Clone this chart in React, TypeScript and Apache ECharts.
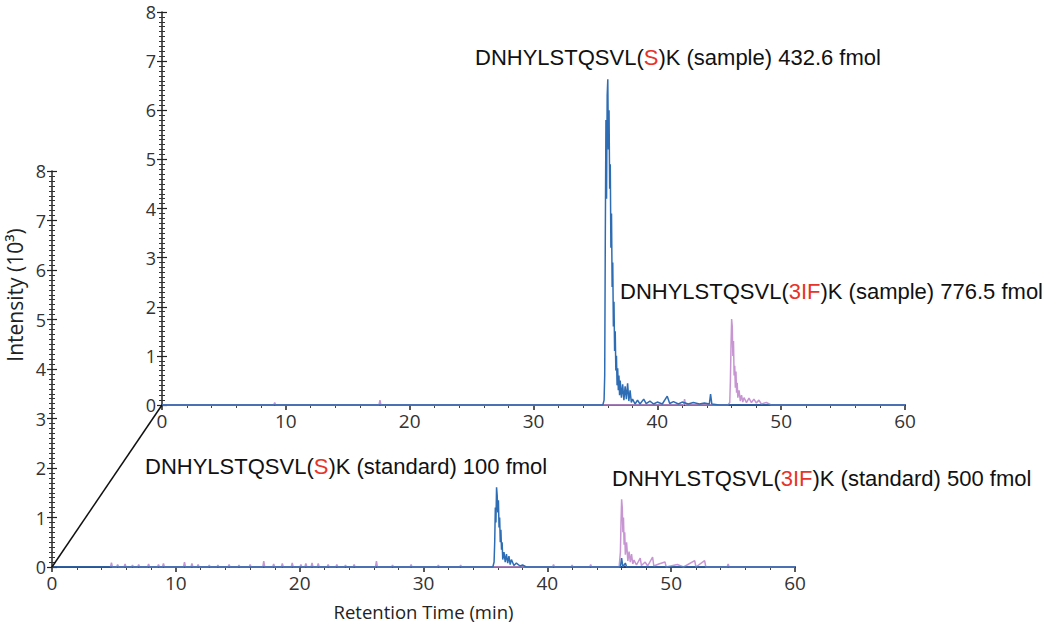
import React, { useEffect, useRef } from "react";
import * as echarts from "echarts";

// ---- data (retention time in min, intensity in 10^3) ----
const xTicks = [0, 10, 20, 30, 40, 50, 60];
const yTicks = [0, 1, 2, 3, 4, 5, 6, 7, 8];

const sampleS: [number, number][] = [
  [0, 0], [35.6, 0], [35.7, 0.1], [35.75, 0.6], [35.8, 3.5], [35.85, 5.8], [35.9, 4.2], [35.95, 6.3],
  [36.0, 6.63], [36.05, 5.2], [36.1, 6.0], [36.15, 4.4], [36.2, 4.9], [36.25, 3.2], [36.3, 3.9],
  [36.35, 2.4], [36.4, 2.9], [36.45, 1.6], [36.5, 2.1], [36.55, 1.1], [36.6, 1.5], [36.65, 0.7],
  [36.7, 1.0], [36.75, 0.4], [36.8, 0.75], [36.85, 0.3], [36.9, 0.6], [36.95, 0.2], [37.0, 0.5],
  [37.1, 0.15], [37.2, 0.42], [37.3, 0.1], [37.4, 0.38], [37.5, 0.12], [37.6, 0.44], [37.7, 0.08],
  [37.8, 0.3], [37.9, 0.05], [38.0, 0.12], [38.2, 0.02], [38.4, 0.1], [38.6, 0.02], [38.9, 0.12],
  [39.1, 0.03], [39.4, 0.08], [39.7, 0.02], [40.0, 0.06], [40.4, 0.02], [40.8, 0.18], [41.0, 0.03],
  [41.3, 0.07], [41.7, 0.02], [42.0, 0.06], [42.5, 0.02], [42.9, 0.05], [43.4, 0.02], [43.8, 0.04],
  [44.2, 0.02], [44.3, 0.22], [44.4, 0.02], [45, 0], [60, 0],
];

const sample3IF: [number, number][] = [
  [0, 0], [45.7, 0], [45.85, 0.05], [45.9, 0.5], [45.95, 1.2], [46.0, 1.75], [46.05, 1.6], [46.1, 1.0],
  [46.15, 1.3], [46.2, 0.6], [46.25, 0.8], [46.3, 0.35], [46.35, 0.68], [46.4, 0.25], [46.45, 0.45],
  [46.5, 0.15], [46.6, 0.3], [46.7, 0.08], [46.8, 0.2], [46.9, 0.06], [47.0, 0.15], [47.2, 0.05],
  [47.4, 0.14], [47.6, 0.05], [47.8, 0.12], [48.0, 0.04], [48.2, 0.1], [48.4, 0.02], [48.8, 0.05],
  [49.2, 0], [60, 0],
];

const sampleNoiseT = [9.1, 17.6, 42.2];
const sampleNoiseH = [0.05, 0.1, 0.12];

const standardS: [number, number][] = [
  [0, 0], [35.6, 0], [35.7, 0.1], [35.75, 0.5], [35.8, 1.2], [35.85, 0.9], [35.9, 1.61], [35.95, 1.45],
  [36.0, 1.1], [36.05, 1.35], [36.1, 0.8], [36.15, 1.0], [36.2, 0.5], [36.25, 0.75], [36.3, 0.35],
  [36.35, 0.5], [36.4, 0.15], [36.5, 0.3], [36.6, 0.1], [36.7, 0.26], [36.8, 0.08], [36.9, 0.22],
  [37.0, 0.05], [37.1, 0.15], [37.3, 0.03], [37.5, 0.08], [37.8, 0.02], [38.0, 0.04], [38.3, 0],
  [45.9, 0], [46.0, 0.18], [46.1, 0], [46.3, 0.08], [46.4, 0], [60, 0],
];

const standard3IF: [number, number][] = [
  [45.8, 0], [45.9, 0.3], [45.95, 0.9], [46.0, 1.37], [46.05, 1.2], [46.1, 0.7], [46.15, 1.0],
  [46.2, 0.45], [46.25, 0.7], [46.3, 0.25], [46.4, 0.5], [46.5, 0.12], [46.6, 0.31], [46.7, 0.1],
  [46.8, 0.26], [46.9, 0.06], [47.0, 0.14], [47.2, 0.04], [47.5, 0.18], [47.6, 0.03], [47.9, 0.1],
  [48.1, 0.02], [48.5, 0.2], [48.6, 0.02], [49.0, 0.06], [49.5, 0.1], [49.6, 0], [50.5, 0.05],
  [51.0, 0], [51.9, 0.13], [52.0, 0], [52.7, 0.13], [52.8, 0], [60, 0],
];

const standardNoiseT = [4.8, 5.3, 5.9, 6.5, 7.0, 7.8, 8.6, 9.0, 10.7, 11.3, 11.8, 12.7, 13.4, 14.3, 15.1,
  16.0, 17.1, 17.9, 18.6, 19.4, 20.1, 20.5, 21.0, 21.5, 22.3, 23.0, 23.7, 24.4, 26.2, 27.5, 29.0, 31.2,
  33.0, 40.5, 42.0, 43.5, 54.6];
const standardNoiseH = [0.09, 0.05, 0.06, 0.04, 0.05, 0.06, 0.05, 0.07, 0.1, 0.07, 0.05, 0.04, 0.04, 0.05,
  0.04, 0.05, 0.12, 0.06, 0.07, 0.08, 0.05, 0.07, 0.08, 0.07, 0.05, 0.05, 0.04, 0.05, 0.12, 0.04, 0.05,
  0.04, 0.04, 0.05, 0.04, 0.05, 0.06];

const labels = [
  { pre: "DNHYLSTQSVL(", mod: "S", post: ")K (sample) 432.6 fmol" },
  { pre: "DNHYLSTQSVL(", mod: "3IF", post: ")K (sample) 776.5 fmol" },
  { pre: "DNHYLSTQSVL(", mod: "S", post: ")K (standard) 100 fmol" },
  { pre: "DNHYLSTQSVL(", mod: "3IF", post: ")K (standard) 500 fmol" },
];

// ---- helpers ----
function withSpikes(base: [number, number][], ts: number[], hs: number[]): [number, number][] {
  const pts: [number, number][] = base.slice();
  ts.forEach((t, i) => {
    pts.push([t - 0.08, 0], [t, hs[i]], [t + 0.08, 0]);
  });
  pts.sort((a, b) => a[0] - b[0]);
  return pts;
}

const BLUE = "#2e6db4";
const PURPLE = "#c795d2";
const TICK_FONT = "Open Sans";
const LABEL_FONT = "Liberation Sans";

const BACK = { left: 162, top: 12, width: 743, height: 393 };
const FRONT = { left: 52, top: 171, width: 743, height: 396 };

function xAxisDef(gridIndex: number, name?: string) {
  return {
    type: "value",
    gridIndex,
    min: xTicks[0],
    max: xTicks[xTicks.length - 1],
    interval: 10,
    name: name || "",
    nameLocation: "middle",
    nameGap: 35,
    nameTextStyle: { fontFamily: TICK_FONT, fontSize: 18.5, color: "#222" },
    axisLine: { show: true, onZero: false, lineStyle: { color: "#3a3463", width: 2 } },
    axisTick: { show: true, length: 5, lineStyle: { color: "#222", width: 1.5 } },
    minorTick: { show: true, splitNumber: 5, length: 3, lineStyle: { color: "#444", width: 1 } },
    axisLabel: { fontFamily: TICK_FONT, fontSize: 19, color: "#333", margin: 6 },
    splitLine: { show: false },
    minorSplitLine: { show: false },
  };
}

function yAxisDef(gridIndex: number, inside: boolean) {
  return {
    type: "value",
    gridIndex,
    position: "left",
    min: yTicks[0],
    max: yTicks[yTicks.length - 1],
    interval: 1,
    axisLine: { show: !inside, onZero: false, lineStyle: { color: "#222", width: 1.5 } },
    axisTick: { show: true, inside, length: 5, lineStyle: { color: "#222", width: 1.2 } },
    minorTick: { show: true, splitNumber: 10, length: 3, lineStyle: { color: "#333", width: 1 } },
    axisLabel: {
      show: !inside, fontFamily: TICK_FONT, fontSize: 18, lineHeight: 15, color: "#333", margin: 6,
    },
    splitLine: { show: false },
    minorSplitLine: { show: false },
  };
}

function lineSeries(data: [number, number][], color: string, axisIdx: number, yIdx: number, z: number) {
  return {
    type: "line",
    data,
    xAxisIndex: axisIdx,
    yAxisIndex: yIdx,
    showSymbol: false,
    symbol: "none",
    lineStyle: { color, width: 1.5 },
    z,
    silent: true,
  };
}

function labelText(i: number, x: number, y: number) {
  const l = labels[i];
  return {
    type: "text",
    x,
    y,
    z: 50,
    style: {
      text: l.pre + "{r|" + l.mod + "}" + l.post,
      fontFamily: LABEL_FONT,
      fontSize: 22,
      fill: "#111",
      verticalAlign: "middle",
      align: "left",
      rich: { r: { fill: "#e8332a", fontFamily: LABEL_FONT, fontSize: 22 } },
    },
  };
}

export default function App() {
  const ref = useRef<HTMLDivElement>(null);
  useEffect(() => {
    if (!ref.current) return;
    const chart = echarts.init(ref.current, undefined, { renderer: "svg" });
    const option = {
      animation: false,
      backgroundColor: "#fff",
      grid: [
        { ...BACK, containLabel: false },
        { ...FRONT, containLabel: false },
      ],
      xAxis: [xAxisDef(0), xAxisDef(1, "Retention Time (min)")],
      yAxis: [yAxisDef(0, false), yAxisDef(0, true), yAxisDef(1, false), yAxisDef(1, true)],
      series: [
        lineSeries(withSpikes(sample3IF, sampleNoiseT, sampleNoiseH), PURPLE, 0, 0, 3),
        lineSeries(sampleS, BLUE, 0, 0, 4),
        lineSeries(withSpikes(standard3IF, standardNoiseT, standardNoiseH), PURPLE, 1, 2, 3),
        lineSeries(standardS, BLUE, 1, 2, 4),
      ],
      graphic: [
        {
          type: "line",
          shape: {
            x1: FRONT.left, y1: FRONT.top + FRONT.height,
            x2: BACK.left, y2: BACK.top + BACK.height,
          },
          style: { stroke: "#111", lineWidth: 1.5 },
          z: 10,
        },
        {
          type: "text",
          x: 15,
          y: 295,
          rotation: Math.PI / 2,
          style: {
            text: "Intensity (10³)",
            fontFamily: TICK_FONT,
            fontSize: 21,
            fill: "#222",
            align: "center",
            verticalAlign: "middle",
          },
        },
        labelText(0, 475, 57),
        labelText(1, 620, 291),
        labelText(2, 145, 466),
        labelText(3, 612, 478),
      ],
    };
    chart.setOption(option as any);
    return () => chart.dispose();
  }, []);
  return (
    <div
      ref={ref}
      style={{ position: "absolute", left: 0, top: 0, width: 1050, height: 634 }}
    />
  );
}
